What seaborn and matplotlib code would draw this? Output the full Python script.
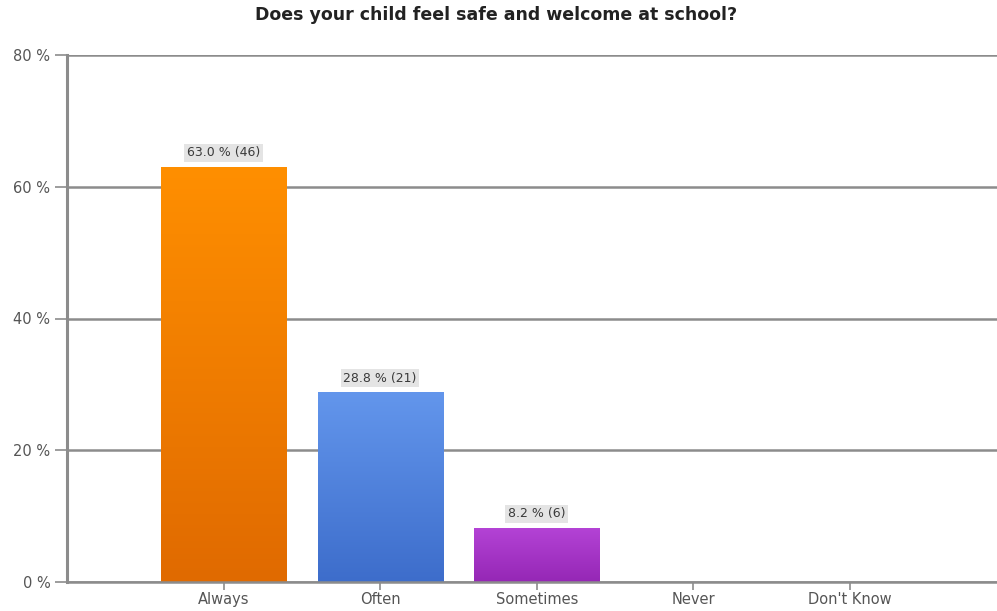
import numpy as np
import pandas as pd
import matplotlib
matplotlib.use("Agg")
import matplotlib.pyplot as plt
from matplotlib.colors import LinearSegmentedColormap
import seaborn as sns

categories = ["Always", "Often", "Sometimes", "Never", "Don't Know"]
percents = [63.0, 28.8, 8.2, 0.0, 0.0]
counts = [46, 21, 6, 0, 0]
y_ticks = [0, 20, 40, 60, 80]
title = "Does your child feel safe and welcome at school?"

# top / bottom colours of each bar's vertical gradient
grad_top = ["#ff8f00", "#6396ec", "#b443d6", "#ffffff", "#ffffff"]
grad_bottom = ["#e06a00", "#3d6dcb", "#9527b5", "#ffffff", "#ffffff"]

sns.set_theme(style="white")
plt.rcParams["font.family"] = ["DejaVu Sans"]

df = pd.DataFrame({"category": categories, "percent": percents})

fig = plt.figure(figsize=(9.97, 6.11), dpi=100)
ax = fig.add_axes([67 / 997, 29 / 611, 1 - 67 / 997, 527 / 611])

sns.barplot(data=df, x="category", y="percent", hue="category",
            palette=grad_bottom, legend=False, width=0.8, ax=ax, zorder=3)

# paint each bar with a vertical gradient clipped to its rectangle
for patch, top, bot, val in zip(ax.patches, grad_top, grad_bottom, percents):
    patch.set_edgecolor("none")
    if val <= 0:
        patch.set_visible(False)
        continue
    x0 = patch.get_x()
    w = patch.get_width()
    h = patch.get_height()
    cmap = LinearSegmentedColormap.from_list("g", [bot, top])
    grad = np.linspace(0, 1, 256).reshape(-1, 1)
    im = ax.imshow(grad, cmap=cmap, origin="lower", aspect="auto",
                   extent=(x0, x0 + w, 0, h), zorder=4)
    im.set_clip_path(patch)
    patch.set_facecolor("none")

ax.set_xlim(-1, 4.94)
ax.set_ylim(0, 80)

# value labels with a light grey box
for i, (val, n) in enumerate(zip(percents, counts)):
    if val <= 0:
        continue
    ax.annotate(f"{val:.1f} % ({n})", xy=(i, val), xytext=(0, 5.5),
                textcoords="offset points", ha="center", va="bottom",
                fontsize=9, color="#3a3a3a", zorder=6,
                bbox=dict(boxstyle="square,pad=0.2", fc="#e4e4e4", ec="none"))

# gridlines and axes
ax.set_yticks(y_ticks)
ax.set_yticklabels([f"{t} %" for t in y_ticks])
ax.yaxis.grid(True, color="#8c8c8c", linewidth=1.8, zorder=1)
ax.axhline(0, color="#8c8c8c", linewidth=1.8, zorder=5, clip_on=False)
ax.xaxis.grid(False)
for side in ["top", "right", "bottom"]:
    ax.spines[side].set_visible(False)
ax.spines["left"].set_color("#8c8c8c")
ax.spines["left"].set_linewidth(2.2)
ax.tick_params(axis="y", length=9, width=1.2, color="#8c8c8c",
               labelsize=10.5, labelcolor="#555555", pad=3, left=True)
ax.tick_params(axis="x", length=6, width=1.2, color="#8c8c8c",
               labelsize=10.5, labelcolor="#555555", pad=1, bottom=True,
               direction="out")
ax.set_xlabel("")
ax.set_ylabel("")

fig.text(496 / 997, 1 - 15 / 611, title, ha="center", va="center",
         fontsize=12.5, fontweight="bold", color="#222222")

fig.savefig("out.png", dpi=100)
